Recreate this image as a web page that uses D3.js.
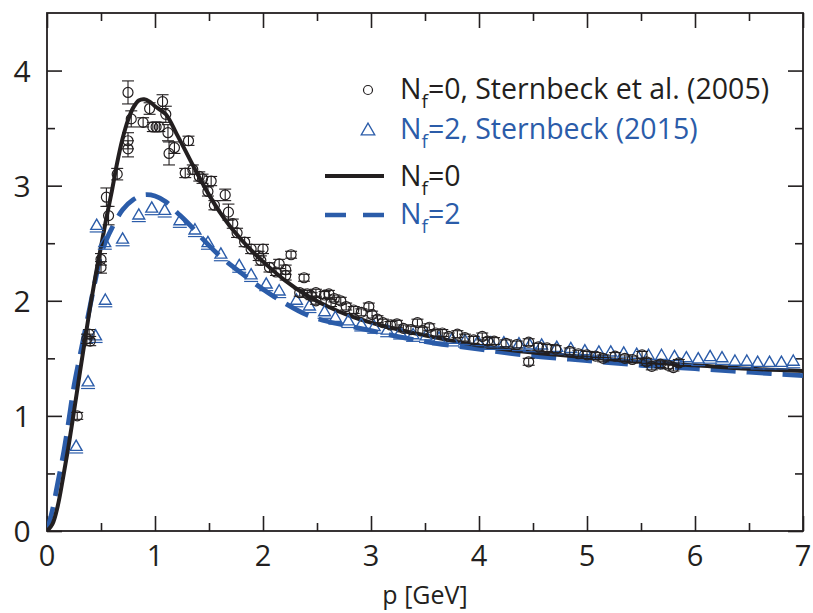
<!DOCTYPE html>
<html><head><meta charset="utf-8">
<script src="https://cdn.jsdelivr.net/npm/d3@7"></script>
<style>body{margin:0;background:#fff}svg{display:block}text{font-family:"Open Sans",sans-serif}</style>
</head><body>
<script>
// ---- data ----
const xTicks = [0,1,2,3,4,5,6,7];
const yTicks = [0,1,2,3,4];
const legendLabels = ["=0, Sternbeck et al. (2005)", "=2, Sternbeck (2015)", "=0", "=2"];

// Nf=0 lattice (Sternbeck et al. 2005)
const circP = [0.28,0.37,0.39,0.40,0.50,0.50,0.55,0.57,0.65,0.75,0.75,0.75,0.78,0.89,0.95,0.98,1.01,1.04,1.07,1.10,1.12,1.13,1.18,1.28,1.31,1.35,1.41,1.44,1.49,1.52,1.55,1.65,1.68,1.72,1.76,1.83,1.89,1.96,1.98,2.00,2.06,2.12,2.15,2.21,2.21,2.26,2.34,2.38,2.41,2.45,2.49,2.49,2.57,2.61,2.63,2.66,2.72,2.77,2.84,2.91,2.98,3.01,3.06,3.11,3.18,3.24,3.30,3.37,3.43,3.48,3.54,3.60,3.66,3.72,3.80,3.87,3.95,4.03,4.08,4.14,4.25,4.35,4.46,4.46,4.55,4.63,4.71,4.84,4.92,5.00,5.08,5.15,5.26,5.35,5.42,5.51,5.55,5.60,5.68,5.75,5.80,5.85];
const circV = [1.00,1.67,1.71,1.65,2.36,2.29,2.90,2.74,3.10,3.81,3.39,3.32,3.58,3.55,3.67,3.51,3.51,3.51,3.73,3.62,3.46,3.28,3.33,3.11,3.39,3.14,3.08,3.06,2.95,3.04,2.83,2.92,2.77,2.67,2.59,2.51,2.45,2.39,2.35,2.45,2.29,2.25,2.32,2.22,2.27,2.40,2.07,2.20,2.06,2.04,2.07,2.00,2.05,2.06,1.98,2.02,2.00,1.95,1.92,1.90,1.95,1.88,1.84,1.81,1.79,1.80,1.76,1.75,1.81,1.74,1.77,1.72,1.72,1.69,1.71,1.68,1.66,1.69,1.65,1.65,1.63,1.62,1.64,1.47,1.60,1.59,1.58,1.56,1.54,1.53,1.52,1.50,1.52,1.50,1.49,1.53,1.47,1.43,1.45,1.44,1.42,1.46];
const circE = [0.03,0.04,0.04,0.04,0.05,0.05,0.08,0.08,0.05,0.10,0.07,0.07,0.07,0.04,0.05,0.04,0.04,0.04,0.06,0.07,0.07,0.10,0.05,0.04,0.04,0.04,0.04,0.04,0.04,0.04,0.04,0.05,0.07,0.04,0.04,0.04,0.04,0.04,0.04,0.04,0.04,0.03,0.04,0.04,0.04,0.03,0.03,0.03,0.03,0.03,0.03,0.03,0.03,0.03,0.03,0.03,0.03,0.03,0.03,0.03,0.03,0.03,0.03,0.03,0.03,0.03,0.03,0.03,0.03,0.03,0.03,0.03,0.03,0.03,0.03,0.03,0.03,0.03,0.03,0.03,0.03,0.03,0.03,0.03,0.03,0.03,0.03,0.03,0.03,0.03,0.03,0.03,0.03,0.03,0.03,0.03,0.03,0.03,0.03,0.03,0.03,0.03];

// Nf=2 lattice (Sternbeck 2015)
const triP = [0.27,0.38,0.45,0.46,0.535,0.54,0.70,0.85,0.97,1.09,1.23,1.37,1.49,1.61,1.78,1.89,2.03,2.15,2.31,2.43,2.57,2.67,2.79,2.91,3.03,3.15,3.27,3.39,3.51,3.63,3.75,3.87,3.99,4.11,4.23,4.37,4.47,4.58,4.72,4.85,4.98,5.11,5.22,5.34,5.46,5.57,5.69,5.81,5.92,6.03,6.14,6.25,6.37,6.48,6.58,6.69,6.80,6.91];
const triV = [0.73,1.29,1.69,2.65,2.50,2.00,2.53,2.74,2.80,2.78,2.69,2.61,2.50,2.40,2.30,2.22,2.14,2.08,2.00,1.95,1.90,1.85,1.82,1.79,1.77,1.74,1.72,1.70,1.69,1.67,1.66,1.65,1.64,1.63,1.63,1.62,1.61,1.61,1.59,1.58,1.56,1.55,1.55,1.54,1.53,1.52,1.52,1.51,1.50,1.49,1.51,1.50,1.47,1.47,1.46,1.46,1.46,1.47];

// Nf=0 curve
const curve0P = [0,0.05,0.1,0.15,0.2,0.25,0.3,0.35,0.4,0.45,0.5,0.55,0.6,0.65,0.7,0.75,0.8,0.85,0.9,0.95,1.0,1.1,1.2,1.3,1.4,1.5,1.6,1.7,1.8,1.9,2.0,2.2,2.4,2.6,2.8,3.0,3.3,3.6,4.0,4.5,5.0,5.5,6.0,6.5,7.0];
const curve0V = [0,0.06,0.22,0.47,0.74,1.04,1.35,1.65,1.95,2.22,2.47,2.72,2.95,3.20,3.41,3.57,3.68,3.74,3.75,3.73,3.69,3.62,3.45,3.27,3.09,2.92,2.77,2.64,2.53,2.43,2.34,2.18,2.05,1.95,1.87,1.81,1.74,1.68,1.61,1.55,1.51,1.47,1.44,1.41,1.39];
// Nf=2 curve
const curve2P = [0,0.05,0.1,0.15,0.2,0.25,0.3,0.35,0.4,0.45,0.5,0.55,0.6,0.7,0.8,0.9,1.0,1.1,1.2,1.3,1.4,1.5,1.6,1.8,2.0,2.2,2.4,2.6,2.8,3.0,3.3,3.6,4.0,4.5,5.0,5.5,6.0,6.5,7.0];
const curve2V = [0,0.18,0.42,0.66,0.95,1.26,1.50,1.73,1.96,2.19,2.40,2.53,2.63,2.79,2.88,2.92,2.91,2.86,2.77,2.68,2.58,2.48,2.39,2.24,2.10,1.98,1.88,1.82,1.78,1.74,1.68,1.63,1.58,1.52,1.48,1.44,1.41,1.38,1.35];

// ---- drawing ----
const W = 813, H = 613;
const M = {l:47, r:803, t:13, b:531};
const BLACK = "#231f20", BLUE = "#2b5ca9";
const svg = d3.select("body").append("svg").attr("width",W).attr("height",H);
const x = d3.scaleLinear().domain([0,7]).range([M.l,M.r]);
const y = d3.scaleLinear().domain([0,4.5]).range([M.b,M.t]);

svg.append("clipPath").attr("id","c").append("rect")
  .attr("x",M.l).attr("y",M.t).attr("width",M.r-M.l).attr("height",M.b-M.t);

// axes with inward ticks (major + minor), mirrored
const minorX = d3.range(0.5,7,1), minorY = d3.range(0.5,4.5,1);
function axisG(axisFn, scale, transform, ticks, size){
  svg.append("g").attr("transform",transform)
    .call(axisFn(scale).tickValues(ticks).tickSize(size).tickFormat(""))
    .call(g=>g.select(".domain").remove())
    .call(g=>g.selectAll("line").attr("stroke",BLACK).attr("stroke-width",1.6));
}
axisG(d3.axisTop, x, `translate(0,${M.b})`, xTicks, 15);
axisG(d3.axisTop, x, `translate(0,${M.b})`, minorX, 8);
axisG(d3.axisBottom, x, `translate(0,${M.t})`, xTicks, 15);
axisG(d3.axisBottom, x, `translate(0,${M.t})`, minorX, 8);
axisG(d3.axisRight, y, `translate(${M.l},0)`, yTicks, 15);
axisG(d3.axisRight, y, `translate(${M.l},0)`, minorY, 8);
axisG(d3.axisLeft, y, `translate(${M.r},0)`, yTicks, 15);
axisG(d3.axisLeft, y, `translate(${M.r},0)`, minorY, 8);

svg.append("rect").attr("x",M.l).attr("y",M.t).attr("width",M.r-M.l).attr("height",M.b-M.t)
  .attr("fill","none").attr("stroke",BLACK).attr("stroke-width",1.8);

// tick labels
svg.append("g").selectAll("text").data(xTicks).join("text")
  .attr("x",d=>x(d)).attr("y",566).attr("text-anchor","middle")
  .attr("font-size",29).attr("fill",BLACK).text(d=>d);
svg.append("g").selectAll("text").data(yTicks).join("text")
  .attr("x",22).attr("y",d=>y(d)+11).attr("text-anchor","middle")
  .attr("font-size",30).attr("fill",BLACK).text(d=>d);
svg.append("text").attr("x",(M.l+M.r)/2).attr("y",604).attr("text-anchor","middle")
  .attr("font-size",25).attr("fill",BLACK).text("p [GeV]");

const plot = svg.append("g").attr("clip-path","url(#c)");

// curves
const line = d3.line().x(d=>x(d[0])).y(d=>y(d[1])).curve(d3.curveCatmullRom);
plot.append("path").datum(curve2P.map((p,i)=>[p,curve2V[i]])).attr("d",line)
  .attr("fill","none").attr("stroke",BLUE).attr("stroke-width",4.8).attr("stroke-dasharray","25,11");
plot.append("path").datum(curve0P.map((p,i)=>[p,curve0V[i]])).attr("d",line)
  .attr("fill","none").attr("stroke",BLACK).attr("stroke-width",4);

// triangles
const tri = d3.symbol().type(d3.symbolTriangle).size(60);
const tg = plot.append("g").selectAll("g").data(triP.map((p,i)=>[p,triV[i]])).join("g")
  .attr("transform",d=>`translate(${x(d[0])},${y(d[1])})`);
tg.append("path").attr("d",tri).attr("fill","none").attr("stroke",BLUE).attr("stroke-width",1.4);
tg.append("line").attr("x1",-7).attr("x2",7).attr("y1",6).attr("y2",6).attr("stroke",BLUE).attr("stroke-width",1.2);

// circles with error bars
const cg = plot.append("g").selectAll("g").data(circP.map((p,i)=>[p,circV[i],circE[i]])).join("g");
cg.append("line").attr("x1",d=>x(d[0])).attr("x2",d=>x(d[0]))
  .attr("y1",d=>y(d[1]-d[2])).attr("y2",d=>y(d[1]+d[2])).attr("stroke",BLACK).attr("stroke-width",1.1);
cg.append("line").attr("x1",d=>x(d[0])-6).attr("x2",d=>x(d[0])+6)
  .attr("y1",d=>y(d[1]+d[2])).attr("y2",d=>y(d[1]+d[2])).attr("stroke",BLACK).attr("stroke-width",1.1);
cg.append("line").attr("x1",d=>x(d[0])-6).attr("x2",d=>x(d[0])+6)
  .attr("y1",d=>y(d[1]-d[2])).attr("y2",d=>y(d[1]-d[2])).attr("stroke",BLACK).attr("stroke-width",1.1);
cg.append("circle").attr("cx",d=>x(d[0])).attr("cy",d=>y(d[1])).attr("r",5)
  .attr("fill","none").attr("stroke",BLACK).attr("stroke-width",1.2);

// legend
const lg = svg.append("g");
const rows = [{y:99,c:BLACK},{y:139,c:BLUE},{y:186,c:BLACK},{y:224,c:BLUE}];
rows.forEach((r,i)=>{
  const t = lg.append("text").attr("x",400).attr("y",r.y).attr("font-size",28.5).attr("fill",r.c);
  t.append("tspan").text("N");
  t.append("tspan").attr("font-size",19).attr("dy",9).text("f");
  t.append("tspan").attr("dy",-9).text(legendLabels[i]);
});
lg.append("circle").attr("cx",368).attr("cy",90).attr("r",4.5).attr("fill","none").attr("stroke",BLACK).attr("stroke-width",1.2);
lg.append("path").attr("d",d3.symbol().type(d3.symbolTriangle).size(80)).attr("transform","translate(368,131)")
  .attr("fill","none").attr("stroke",BLUE).attr("stroke-width",1.3);
lg.append("line").attr("x1",325).attr("x2",384).attr("y1",176).attr("y2",176).attr("stroke",BLACK).attr("stroke-width",4);
lg.append("line").attr("x1",325).attr("x2",384).attr("y1",215).attr("y2",215).attr("stroke",BLUE).attr("stroke-width",4.5).attr("stroke-dasharray","21,17");
</script>
</body></html>
